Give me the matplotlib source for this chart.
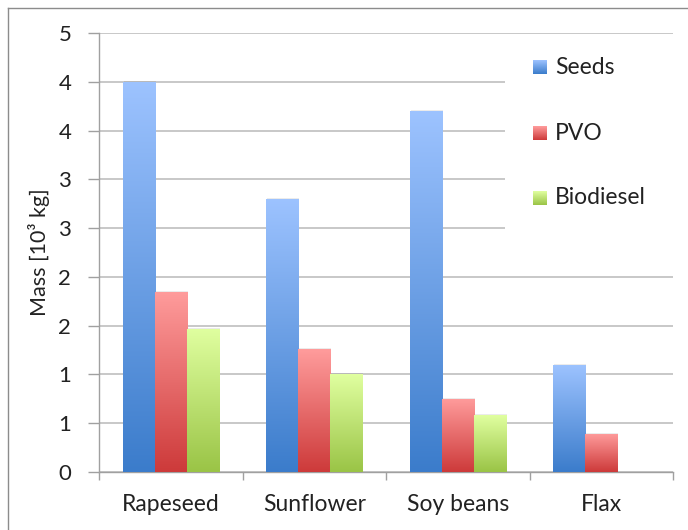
import matplotlib
matplotlib.use("Agg")
import matplotlib.pyplot as plt
import numpy as np
from matplotlib.colors import LinearSegmentedColormap
from matplotlib.patches import Rectangle
from matplotlib.lines import Line2D

categories = ["Rapeseed", "Sunflower", "Soy beans", "Flax"]
seeds = [4.00, 2.80, 3.70, 1.10]
pvo = [1.85, 1.26, 0.75, 0.39]
biodiesel = [1.47, 1.00, 0.58, 0.0]
series_names = ["Seeds", "PVO", "Biodiesel"]
ytick_values = [0, 0.5, 1, 1.5, 2, 2.5, 3, 3.5, 4, 4.5]
ytick_labels = ["0", "1", "1", "2", "2", "3", "3", "4", "4", "5"]

grads = [("#9dc3ff", "#3b7ccb"), ("#ff9c9c", "#cd3a3a"), ("#e0ffa0", "#9ac446")]

plt.rcParams['font.family'] = ['Lato', 'DejaVu Sans']

W, H = 688, 530
fig = plt.figure(figsize=(W/100, H/100), dpi=100)
ax = fig.add_axes([99/W, (H-472)/H, (673-99)/W, (472-33)/H])

ax.set_xlim(0, len(categories))
ax.set_ylim(0, 4.5)

bw = 0.223
for s, vals in enumerate([seeds, pvo, biodiesel]):
    top, bot = grads[s]
    cmap = LinearSegmentedColormap.from_list("g%d" % s, [bot, top])
    grad = np.linspace(0, 1, 256).reshape(-1, 1)
    for i, v in enumerate(vals):
        if v <= 0:
            continue
        x0 = i + 0.5 - 1.5 * bw + s * bw
        sh = Rectangle((x0 + 0.008, 0), bw, v + 0.01, facecolor="#000000", alpha=0.08, edgecolor="none", zorder=2)
        ax.add_patch(sh)
        im = ax.imshow(grad, cmap=cmap, origin="lower", aspect="auto",
                       extent=(x0, x0 + bw, 0, v), zorder=3, interpolation="bilinear")
        r = Rectangle((x0, 0), bw, v, transform=ax.transData, facecolor="none", edgecolor="none")
        ax.add_patch(r)
        im.set_clip_path(r)

ax.set_xlim(0, len(categories))
ax.set_ylim(0, 4.5)

ax.set_yticks(ytick_values)
ax.set_yticklabels(ytick_labels, fontsize=16, color="#222222")
ax.set_xticks(np.arange(len(categories) + 1))
ax.set_xticklabels([])
ax.set_xticks(np.arange(len(categories)) + 0.5, minor=True)
ax.set_xticklabels(categories, minor=True, fontsize=16.5, color="#222222")
ax.tick_params(axis='x', which='minor', length=0, pad=16)
ax.tick_params(axis='x', which='major', length=6, color="#a0a0a0", width=1)
ax.tick_params(axis='y', length=8, color="#a0a0a0", width=1, pad=12)

ax.yaxis.grid(True, color="#c4c4c4", linewidth=1.3, zorder=0)
ax.set_axisbelow(True)
for sp in ["top", "right"]:
    ax.spines[sp].set_visible(False)
for sp in ["left", "bottom"]:
    ax.spines[sp].set_color("#a0a0a0")
    ax.spines[sp].set_linewidth(1)

ax.set_ylabel("Mass [10³ kg]", fontsize=15.5, labelpad=6, color="#222222")

fig.patches.append(Rectangle((505/W, (H-250)/H), (680-505)/W, (250-40)/H,
                             transform=fig.transFigure, facecolor="white", edgecolor="none", zorder=5))
leg_y = [67, 133, 198]
for s in range(3):
    top, bot = grads[s]
    cmap = LinearSegmentedColormap.from_list("l%d" % s, [bot, top])
    lax = fig.add_axes([533/W, (H - leg_y[s] - 7)/H, 14/W, 14/H], zorder=6)
    lax.imshow(np.linspace(0, 1, 64).reshape(-1, 1), cmap=cmap, origin="lower", aspect="auto")
    lax.axis("off")
    fig.text(555/W, (H - leg_y[s])/H, series_names[s], fontsize=16.5, va="center", ha="left",
             color="#222222", zorder=7)

fig.add_artist(Line2D([8/W, 8/W], [0, (H-8)/H], color="#8c8c8c", linewidth=1, transform=fig.transFigure))
fig.add_artist(Line2D([8/W, 1], [(H-8)/H, (H-8)/H], color="#8c8c8c", linewidth=1, transform=fig.transFigure))

fig.savefig("out.png", dpi=100)
